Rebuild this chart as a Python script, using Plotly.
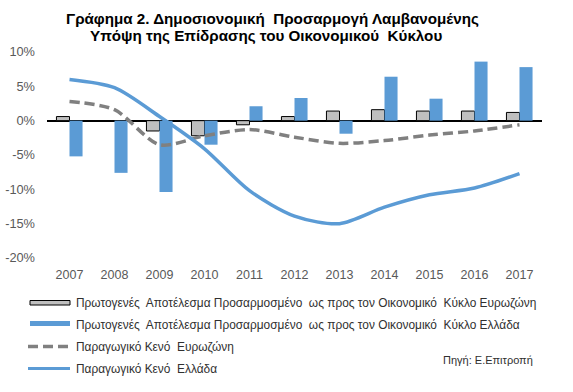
import plotly.graph_objects as go

years = ['2007', '2008', '2009', '2010', '2011', '2012', '2013', '2014', '2015', '2016', '2017']
ez_primary = [0.6, 0.0, -1.5, -2.2, -0.6, 0.6, 1.4, 1.6, 1.4, 1.4, 1.2]
gr_primary = [-5.2, -7.6, -10.4, -3.5, 2.1, 3.3, -1.9, 6.4, 3.2, 8.6, 7.8]
ez_gap = [2.8, 1.6, -3.5, -2.2, -1.3, -2.4, -3.3, -2.9, -2.1, -1.5, -0.6]
gr_gap = [6.0, 4.8, 0.6, -4.1, -10.2, -13.9, -15.0, -12.6, -10.8, -9.8, -7.7]

names = [
    'Πρωτογενές  Αποτέλεσμα Προσαρμοσμένο  ως προς τον Οικονομικό  Κύκλο Ευρωζώνη',
    'Πρωτογενές  Αποτέλεσμα Προσαρμοσμένο  ως προς τον Οικονομικό  Κύκλο Ελλάδα',
    'Παραγωγικό Κενό  Ευρωζώνη',
    'Παραγωγικό Κενό  Ελλάδα',
]
title_lines = ['Γράφημα 2. Δημοσιονομική  Προσαρμογή Λαμβανομένης',
               'Υπόψη της Επίδρασης του Οικονομικού  Κύκλου']
source = 'Πηγή: Ε.Επιτροπή'

GREY = '#BFBFBF'
BLUE = '#5B9BD5'
DASH = '#808080'
FONT = 'Liberation Sans, Arial, sans-serif'

fig = go.Figure()
fig.add_trace(go.Bar(x=years, y=ez_primary, name=names[0], marker=dict(color=GREY, line=dict(color='black', width=1))))
fig.add_trace(go.Bar(x=years, y=gr_primary, name=names[1], marker=dict(color=BLUE, line=dict(width=0))))
fig.add_trace(go.Scatter(x=years, y=ez_gap, name=names[2], mode='lines',
                         line=dict(color=DASH, width=3.5, dash='10px,5px', shape='spline', smoothing=0.8)))
fig.add_trace(go.Scatter(x=years, y=gr_gap, name=names[3], mode='lines',
                         line=dict(color=BLUE, width=3.5, shape='spline', smoothing=0.8)))

W, H = 573, 392
L, R, T, B = 47, 31, 52, 134
pw, ph = W - L - R, H - T - B

def px(x):
    return (x - L) / pw

def py(y):
    return (H - B - y) / ph

shapes = []
annotations = []
# custom legend
rows = [303, 325, 347, 369]
sx0, sx1 = 30, 70
shapes.append(dict(type='rect', xref='paper', yref='paper', x0=px(sx0), x1=px(sx1), y0=py(305), y1=py(300.5),
                   fillcolor=GREY, line=dict(color='black', width=1)))
shapes.append(dict(type='rect', xref='paper', yref='paper', x0=px(sx0), x1=px(sx1), y0=py(326), y1=py(321),
                   fillcolor=BLUE, line=dict(width=0)))
shapes.append(dict(type='line', xref='paper', yref='paper', x0=px(28), x1=px(sx1), y0=py(346.5), y1=py(346.5),
                   line=dict(color=DASH, width=3.5, dash='10px,5px')))
shapes.append(dict(type='line', xref='paper', yref='paper', x0=px(28), x1=px(sx1), y0=py(368.5), y1=py(368.5),
                   line=dict(color=BLUE, width=3)))
for i, r in enumerate(rows):
    annotations.append(dict(text=names[i], xref='paper', yref='paper', x=px(74), y=py(r), xanchor='left', yanchor='middle',
                            showarrow=False, font=dict(family=FONT, size=11.9, color='#303030')))
annotations.append(dict(text=source, xref='paper', yref='paper', x=px(441), y=py(360), xanchor='left', yanchor='middle',
                        showarrow=False, font=dict(family=FONT, size=11, color='#303030')))
for i, t in enumerate(title_lines):
    annotations.append(dict(text='<b>' + t + '</b>', xref='paper', yref='paper', x=px([272, 266][i]), y=py([18, 35][i]),
                            xanchor='center', yanchor='middle', showarrow=False,
                            font=dict(family=FONT, size=15.2, color='black')))

fig.update_layout(
    width=W, height=H,
    margin=dict(l=L, r=R, t=T, b=B, autoexpand=False),
    paper_bgcolor='white', plot_bgcolor='white',
    barmode='group', bargap=0.42, bargroupgap=0,
    showlegend=False,
    shapes=shapes, annotations=annotations,
    font=dict(family=FONT, size=12.5, color='#595959'),
)
fig.update_xaxes(type='category', showgrid=False, showline=False, ticks='', tickfont=dict(size=12.5, color='#595959'),
                 ticklabelstandoff=7)
fig.update_yaxes(range=[-20, 10], showgrid=False, showline=False, ticks='',
                 zeroline=True, zerolinecolor='black', zerolinewidth=2,
                 tickvals=[-20, -15, -10, -5, 0, 5, 10],
                 ticktext=['-20%', '-15%', '-10%', '-5%', '0%', '5%', '10%'],
                 tickfont=dict(size=12.8, color='#595959'), ticklabelstandoff=11)

fig.write_html('out.html', config={'displayModeBar': False},
               post_script="document.body.style.margin='0px';")
